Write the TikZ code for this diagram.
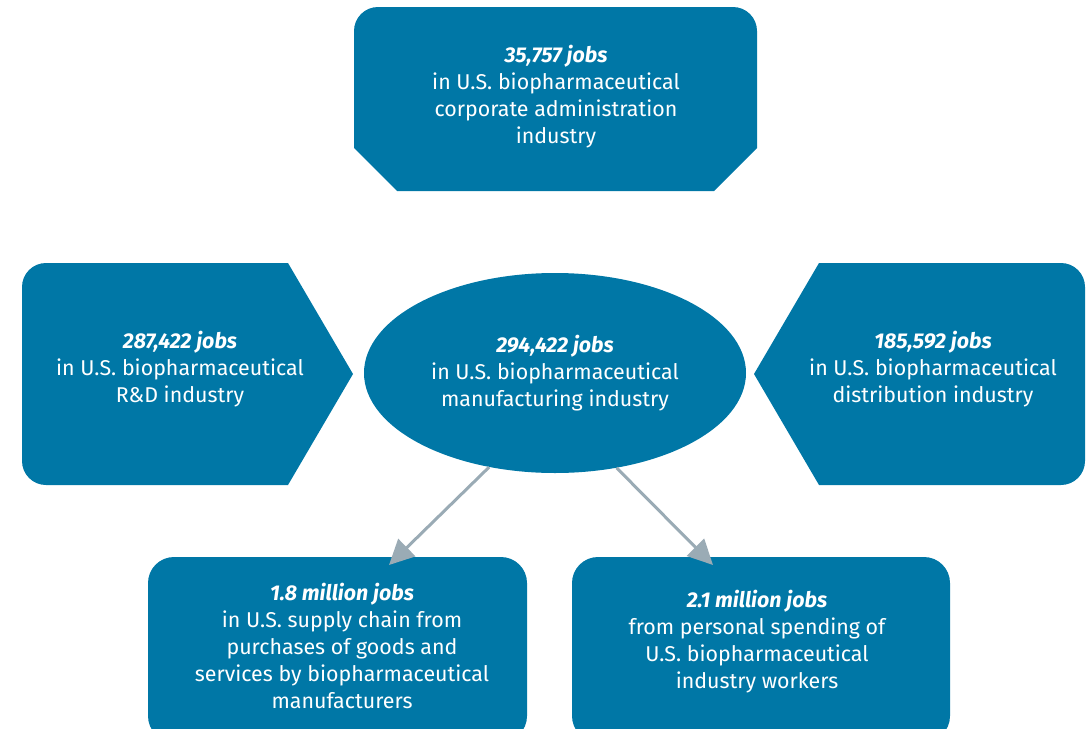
\documentclass[tikz,border=0pt]{standalone}
\usepackage{fontspec}
\setmainfont{Fira Sans}
\usetikzlibrary{shapes.geometric,arrows.meta}
\definecolor{jobblue}{HTML}{0077A6}
\definecolor{linkgray}{HTML}{9AABB5}
\begin{document}
\begin{tikzpicture}[x=1pt,y=-1pt]
\tikzstyle{panel}=[fill=jobblue]
\tikzstyle{txt}=[text=white, align=center, font=\fontsize{21.4}{27}\selectfont]
\tikzstyle{link}=[-{Triangle[length=25pt,width=24pt]}, line width=3pt, draw=linkgray]
\clip (0,0) rectangle (1086,728);
  % panels
  \fill[panel] (397,191) -- (354,148) -- (354,100) [rounded corners=24] -- (354,7) -- (757,7) -- (757,60)
        [sharp corners] -- (757,148) -- (714,191) -- cycle;
  \fill[panel] (288,263) -- (353,374) -- (288,485) -- (200,485) [rounded corners=24] -- (22,485) -- (22,263)
        -- (200,263) [sharp corners] -- cycle;
  \fill[panel] (819,263) -- (754,374) -- (819,485) -- (900,485) [rounded corners=24] -- (1085,485) -- (1085,263)
        -- (900,263) [sharp corners] -- cycle;
  \fill[panel, rounded corners=26] (148,557) rectangle (527,742);
  \fill[panel, rounded corners=26] (572,557) rectangle (950,742);
  \node[txt, panel, ellipse, minimum width=382, minimum height=200, inner sep=0] (manuf) at (555,373)
        {\textbf{\textit{294,422 jobs}}\\in U.S. biopharmaceutical\\manufacturing industry};
  % texts
  \node[txt] (admin) at (556,97) {\textbf{\textit{35,757 jobs}}\\in U.S. biopharmaceutical\\corporate administration\\industry};
  \node[txt] (rnd) at (180,369) {\textbf{\textit{287,422 jobs}}\\in U.S. biopharmaceutical\\R\&D industry};
  \node[txt] (distr) at (933,369) {\textbf{\textit{185,592 jobs}}\\in U.S. biopharmaceutical\\distribution industry};
  \node[txt] (supply) at (342,646) {\textbf{\textit{1.8 million jobs}}\\in U.S. supply chain from\\purchases of goods and\\services by biopharmaceutical\\manufacturers};
  \node[txt] (spend) at (757,642) {\textbf{\textit{2.1 million jobs}}\\from personal spending of\\U.S. biopharmaceutical\\industry workers};
  % arrows
  \coordinate (supplytip) at (389,565);
  \coordinate (spendtip) at (713,565);
  \draw[link] (manuf.235) -- (supplytip);
  \draw[link] (manuf.-57) -- (spendtip);
\end{tikzpicture}
\end{document}
